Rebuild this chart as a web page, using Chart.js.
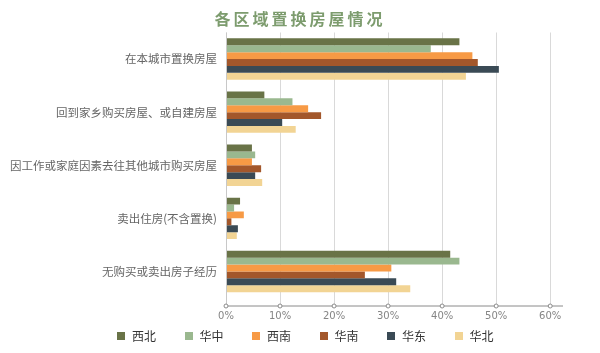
<!DOCTYPE html>
<html>
<head>
<meta charset="utf-8">
<script src="https://cdn.jsdelivr.net/npm/chart.js@4"></script>
<style>
  body { margin:0; background:#fff; font-family:"Noto Sans CJK SC", "Noto Sans", sans-serif; }
  .wrap { position:relative; width:600px; height:353px; }
  .title { position:absolute; left:0; right:0; top:6px; text-align:center; font-size:16px; font-weight:700; color:#7d9c6e; letter-spacing:3px; }
  .legend { position:absolute; left:117px; top:327px; display:flex; gap:28.5px; font-size:12px; color:#333; }
  .legend span { display:flex; align-items:center; }
  .legend i { display:inline-block; width:8px; height:8px; margin-right:7px; }
</style>
</head>
<body>
<div class="wrap">
  <canvas id="c" width="600" height="353"></canvas>
  <div class="title">各区域置换房屋情况</div>
  <div class="legend" id="legend"></div>
</div>
<script>
// categories (top to bottom)
const categories = ['在本城市置换房屋', '回到家乡购买房屋、或自建房屋', '因工作或家庭因素去往其他城市购买房屋', '卖出住房(不含置换)', '无购买或卖出房子经历'];
const regions = ['西北', '华中', '西南', '华南', '华东', '华北'];
const colors = ['#697347', '#9ab88f', '#f79a45', '#a3572b', '#3a4a55', '#f2d494'];

// values in %
const xibei   = [43.2, 7.1, 4.8, 2.6, 41.5];
const huazhong= [37.9, 12.3, 5.4, 1.5, 43.2];
const xinan   = [45.6, 15.2, 4.8, 3.3, 30.6];
const huanan  = [46.6, 17.6, 6.5, 1.0, 25.7];
const huadong = [50.5, 10.4, 5.4, 2.2, 31.5];
const huabei  = [44.4, 12.9, 6.7, 2.0, 34.1];
const seriesValues = [xibei, huazhong, xinan, huanan, huadong, huabei];
const xTicks = [0, 10, 20, 30, 40, 50, 60];

// html legend
document.getElementById('legend').innerHTML = regions.map((r, i) =>
  `<span><i style="background:${colors[i]}"></i>${r}</span>`).join('');

// bottom axis line with small round markers
const axisPlugin = {
  id: 'axisLine',
  afterDraw(chart) {
    const { ctx, chartArea } = chart;
    const xs = chart.scales.x;
    const y = 306;
    ctx.save();
    ctx.strokeStyle = '#c8c8c8';
    ctx.lineWidth = 1;
    ctx.beginPath();
    ctx.moveTo(chartArea.left + 0.5, chartArea.top);
    ctx.lineTo(chartArea.left + 0.5, y);
    ctx.stroke();
    ctx.strokeStyle = '#8a8a8a';
    ctx.beginPath();
    ctx.moveTo(chartArea.left, y);
    ctx.lineTo(563, y);
    ctx.stroke();
    xTicks.forEach(v => {
      const px = xs.getPixelForValue(v);
      ctx.beginPath();
      ctx.arc(px, y, 2, 0, Math.PI * 2);
      ctx.fillStyle = '#fff';
      ctx.fill();
      ctx.stroke();
    });
    ctx.restore();
  }
};

new Chart(document.getElementById('c'), {
  type: 'bar',
  data: {
    labels: categories,
    datasets: regions.map((r, i) => ({
      label: r,
      data: seriesValues[i],
      backgroundColor: colors[i],
      borderWidth: 0,
      barPercentage: 1,
      categoryPercentage: 0.78,
    })),
  },
  options: {
    indexAxis: 'y',
    responsive: false,
    animation: false,
    layout: { padding: { left: 0, right: 39, top: 32.5, bottom: 0 } },
    plugins: { legend: { display: false }, tooltip: { enabled: false } },
    scales: {
      x: {
        min: 0, max: 62,
        afterBuildTicks: s => { s.ticks = xTicks.map(v => ({ value: v })); },
        afterFit: s => { s.height = 55; },
        border: { display: false },
        grid: { color: '#d9d9d9', tickLength: 8, drawOnChartArea: true },
        ticks: { padding: 4, color: '#858585', font: { family: 'DejaVu Sans', size: 10 }, callback: v => v + '%' },
      },
      y: {
        afterFit: s => { s.width = 226; },
        border: { display: false },
        grid: { display: false, drawTicks: false },
        ticks: { padding: 9, color: '#666666', font: { family: 'Noto Sans CJK SC', size: 11.5 } },
      },
    },
  },
  plugins: [axisPlugin],
});
</script>
</body>
</html>
